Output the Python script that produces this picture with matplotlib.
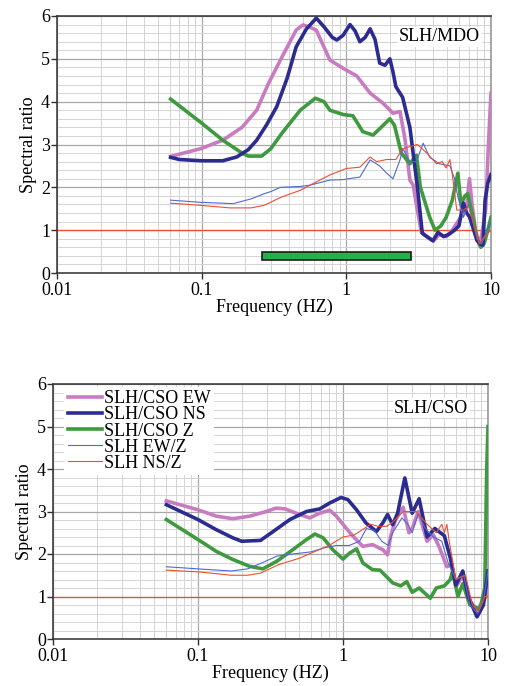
import matplotlib
matplotlib.use("Agg")
import matplotlib.pyplot as plt
from matplotlib.ticker import LogLocator, MultipleLocator, FixedLocator, FixedFormatter, NullFormatter

plt.rcParams['font.family'] = ['Liberation Serif', 'DejaVu Serif']

# ---------------- data: SLH/MDO (top) ----------------
mdo_ew_f = [0.061, 0.075, 0.098, 0.14, 0.19, 0.24, 0.29, 0.36, 0.45, 0.5, 0.55, 0.62, 0.77, 0.95, 1.18, 1.46, 1.8, 2.1, 2.35, 2.55, 2.75, 2.9, 3.05, 3.3, 3.6, 4.0, 4.4, 4.9, 5.4, 5.9, 6.4, 6.8, 7.1, 7.4, 7.8, 8.4, 9.2, 9.6, 10.0]
mdo_ew = [2.72, 2.8, 2.9, 3.1, 3.4, 3.8, 4.43, 5.05, 5.67, 5.79, 5.75, 5.67, 4.97, 4.78, 4.6, 4.2, 3.96, 3.73, 3.77, 3.1, 2.17, 2.05, 1.6, 0.95, 0.85, 0.75, 0.9, 0.85, 1.0, 1.2, 1.4, 1.6, 2.2, 1.6, 1.0, 0.65, 1.5, 3.0, 4.2]

mdo_ns_f = [0.061, 0.07, 0.1, 0.14, 0.175, 0.21, 0.24, 0.28, 0.33, 0.39, 0.45, 0.53, 0.62, 0.7, 0.8, 0.86, 0.95, 1.06, 1.15, 1.24, 1.35, 1.46, 1.58, 1.7, 1.85, 2.0, 2.1, 2.2, 2.45, 2.75, 3.1, 3.35, 3.6, 3.97, 4.3, 4.7, 5.1, 5.6, 6.0, 6.45, 6.8, 7.1, 7.6, 8.0, 8.4, 8.8, 9.1, 9.5, 10.0]
mdo_ns = [2.7, 2.65, 2.62, 2.62, 2.71, 2.88, 3.1, 3.45, 3.88, 4.55, 5.28, 5.7, 5.95, 5.75, 5.5, 5.44, 5.55, 5.8, 5.65, 5.4, 5.5, 5.7, 5.45, 4.9, 4.85, 5.0, 4.7, 4.35, 4.1, 3.4, 2.0, 0.93, 0.85, 0.75, 0.95, 0.85, 0.9, 1.0, 1.1, 1.63, 1.4, 1.31, 1.0, 0.76, 0.68, 0.65, 1.7, 2.1, 2.3]

mdo_z_f = [0.061, 0.1, 0.14, 0.19, 0.21, 0.26, 0.3, 0.36, 0.48, 0.61, 0.7, 0.77, 0.95, 1.11, 1.3, 1.53, 1.8, 2.0, 2.15, 2.4, 2.75, 3.05, 3.25, 3.77, 4.1, 4.5, 4.9, 5.4, 5.9, 6.2, 6.6, 6.9, 7.4, 8.0, 8.5, 9.0, 9.5, 10.0]
mdo_z = [4.06, 3.5, 3.1, 2.8, 2.73, 2.73, 2.9, 3.27, 3.8, 4.08, 4.0, 3.8, 3.7, 3.67, 3.3, 3.22, 3.45, 3.6, 3.45, 2.8, 2.55, 2.75, 2.0, 1.3, 1.0, 1.1, 1.3, 1.7, 2.33, 1.6, 1.8, 1.85, 1.4, 0.8, 0.6, 0.7, 1.0, 1.3]

mdo_ewz_f = [0.061, 0.098, 0.165, 0.22, 0.27, 0.3, 0.35, 0.48, 0.56, 0.77, 0.95, 1.24, 1.46, 1.7, 1.9, 2.1, 2.35, 2.45, 2.75, 3.05, 3.4, 3.77, 4.4, 5.2, 5.6, 5.8, 6.2, 6.45, 7.0, 7.5, 8.0, 8.6, 9.2, 10.0]
mdo_ewz = [1.7, 1.65, 1.62, 1.73, 1.85, 1.9, 2.0, 2.02, 2.05, 2.17, 2.18, 2.24, 2.64, 2.5, 2.33, 2.2, 2.64, 2.91, 2.6, 2.6, 3.03, 2.7, 2.55, 2.5, 2.2, 1.9, 1.5, 1.3, 1.6, 1.2, 0.8, 0.68, 0.9, 1.2]

mdo_nsz_f = [0.061, 0.098, 0.157, 0.22, 0.27, 0.36, 0.48, 0.56, 0.77, 1.0, 1.24, 1.46, 1.62, 1.9, 2.2, 2.45, 3.1, 3.6, 4.2, 4.6, 4.9, 5.2, 5.4, 5.8, 6.45, 7.0, 7.5, 8.3, 9.0, 10.0]
mdo_nsz = [1.63, 1.58, 1.52, 1.52, 1.58, 1.78, 1.93, 2.05, 2.29, 2.44, 2.47, 2.71, 2.6, 2.65, 2.65, 2.9, 3.0, 2.8, 2.55, 2.6, 2.45, 2.65, 2.3, 1.47, 1.47, 1.55, 1.2, 0.68, 0.85, 1.0]

band_lo, band_hi, band_y, band_h = 0.26, 2.8, 0.395, 0.19

# ---------------- data: SLH/CSO (bottom) ----------------
cso_ew_f = [0.0605, 0.1, 0.134, 0.174, 0.227, 0.296, 0.345, 0.4, 0.5, 0.59, 0.69, 0.81, 0.9, 1.05, 1.17, 1.37, 1.6, 1.88, 2.03, 2.13, 2.3, 2.6, 2.85, 3.0, 3.3, 3.8, 4.2, 4.6, 5.2, 5.6, 6.0, 6.7, 7.5, 8.4, 9.9, 10.0]
cso_ew = [3.25, 3.04, 2.89, 2.83, 2.89, 3.0, 3.08, 3.06, 2.93, 2.85, 2.96, 3.03, 2.89, 2.61, 2.42, 2.18, 2.22, 2.1, 1.98, 2.42, 2.8, 3.1, 2.5, 2.6, 3.0, 2.3, 2.45, 2.17, 1.7, 1.75, 1.22, 1.5, 0.9, 0.68, 1.05, 1.1]

cso_ns_f = [0.0605, 0.1, 0.134, 0.174, 0.2, 0.27, 0.33, 0.43, 0.56, 0.69, 0.81, 0.97, 1.08, 1.24, 1.44, 1.7, 1.88, 2.03, 2.2, 2.38, 2.67, 3.0, 3.35, 3.8, 4.3, 5.0, 5.5, 6.0, 6.7, 7.3, 8.4, 9.3, 10.0]
cso_ns = [3.16, 2.81, 2.57, 2.38, 2.3, 2.32, 2.53, 2.81, 3.0, 3.06, 3.2, 3.33, 3.28, 3.04, 2.73, 2.53, 2.73, 2.93, 2.69, 2.96, 3.79, 2.96, 3.3, 2.4, 2.6, 2.43, 1.9, 1.27, 1.6, 1.0, 0.52, 0.8, 1.6]

cso_z_f = [0.0605, 0.1, 0.134, 0.174, 0.227, 0.28, 0.35, 0.45, 0.56, 0.64, 0.73, 0.85, 1.0, 1.11, 1.24, 1.37, 1.6, 1.8, 2.2, 2.5, 2.75, 3.0, 3.35, 4.0, 4.4, 5.0, 5.5, 5.7, 6.2, 6.7, 7.5, 8.8, 9.5, 9.8, 10.0]
cso_z = [2.81, 2.34, 2.06, 1.87, 1.71, 1.65, 1.83, 2.1, 2.34, 2.47, 2.38, 2.1, 1.88, 2.02, 2.12, 1.79, 1.63, 1.62, 1.32, 1.25, 1.35, 1.1, 1.2, 0.96, 1.2, 1.25, 1.4, 1.6, 1.0, 1.3, 0.8, 0.7, 1.2, 4.0, 5.0]

cso_ewz_f = [0.0605, 0.1, 0.17, 0.22, 0.28, 0.35, 0.45, 0.6, 0.75, 0.9, 1.1, 1.3, 1.45, 1.65, 1.85, 2.05, 2.2, 2.55, 2.8, 3.0, 3.3, 3.7, 4.2, 4.8, 5.3, 6.0, 6.8, 7.5, 8.5, 9.3, 10.0]
cso_ewz = [1.7, 1.65, 1.6, 1.65, 1.8, 1.95, 2.0, 2.05, 2.15, 2.2, 2.2, 2.3, 2.6, 2.55, 2.3, 2.2, 2.5, 2.85, 2.7, 2.5, 2.95, 2.6, 2.4, 2.3, 1.8, 1.4, 1.5, 0.8, 0.6, 0.9, 1.6]

cso_nsz_f = [0.0605, 0.1, 0.17, 0.22, 0.27, 0.36, 0.5, 0.63, 0.8, 1.0, 1.2, 1.4, 1.55, 1.75, 2.0, 2.2, 2.6, 3.2, 3.8, 4.4, 4.8, 5.0, 5.2, 5.4, 6.0, 7.0, 7.8, 8.6, 9.5, 10.0]
cso_nsz = [1.62, 1.58, 1.5, 1.5, 1.55, 1.75, 1.9, 2.05, 2.2, 2.4, 2.45, 2.6, 2.7, 2.65, 2.65, 2.75, 3.0, 3.0, 2.7, 2.5, 2.7, 2.5, 2.7, 2.3, 1.4, 1.5, 0.8, 0.65, 1.0, 1.0]

labels = ['SLH/CSO EW', 'SLH/CSO NS', 'SLH/CSO Z', 'SLH EW/Z', 'SLH NS/Z']
x_ticks = [0.01, 0.1, 1, 10]
x_ticklabels = ['0.01', '0.1', '1', '10']

# ---------------- styles ----------------
C_PINK = '#c97bc2'
C_NAVY = '#2c2c90'
C_GREEN = '#3f9a3f'
C_THINB = '#4d6bd0'
C_RED = '#ea5030'
LW_THICK = 2.6
LW_THIN = 0.8
FS = 13

fig = plt.figure(figsize=(5.06, 6.86), dpi=100)
ax1 = fig.add_axes([57/506, 1 - 273/686, 434/506, 257/686])
ax2 = fig.add_axes([53/506, 1 - 639/686, 435/506, 255/686])


def style_axes(ax):
    ax.set_xscale('log')
    ax.set_xlim(0.01, 10)
    ax.set_ylim(0, 6)
    ax.xaxis.set_major_locator(FixedLocator(x_ticks))
    ax.xaxis.set_major_formatter(FixedFormatter(x_ticklabels))
    ax.xaxis.set_minor_locator(LogLocator(base=10, subs=range(2, 10)))
    ax.xaxis.set_minor_formatter(NullFormatter())
    ax.yaxis.set_major_locator(MultipleLocator(1))
    ax.yaxis.set_minor_locator(MultipleLocator(0.2))
    ax.grid(which='major', color='#a8a8a8', lw=0.9)
    ax.grid(which='minor', color='#d4d4d4', lw=0.7)
    ax.set_axisbelow(True)
    for s in ax.spines.values():
        s.set_color('#303030')
        s.set_linewidth(1.1)
    ax.spines['right'].set_color('#909090')
    ax.tick_params(which='major', direction='out', length=4, width=1, labelsize=FS, pad=1, color='#303030')
    ax.tick_params(axis='x', which='major', pad=2.5)
    ax.tick_params(which='minor', length=0)
    ax.axhline(1, color=C_RED, lw=0.9, zorder=1.5)
    ax.set_ylabel('Spectral ratio', fontsize=FS, labelpad=3)
    ax.set_xlabel('Frequency (HZ)', fontsize=FS, labelpad=0)


for ax in (ax1, ax2):
    style_axes(ax)

# top chart
ax1.plot(mdo_ew_f, mdo_ew, color=C_PINK, lw=LW_THICK, zorder=3)
ax1.plot(mdo_z_f, mdo_z, color=C_GREEN, lw=LW_THICK, zorder=3)
ax1.plot(mdo_ns_f, mdo_ns, color=C_NAVY, lw=LW_THICK, zorder=4)
ax1.plot(mdo_ewz_f, mdo_ewz, color=C_THINB, lw=LW_THIN, zorder=5)
ax1.plot(mdo_nsz_f, mdo_nsz, color=C_RED, lw=LW_THIN, zorder=5)
ax1.barh([band_y], [band_hi - band_lo], left=[band_lo], height=band_h,
         color='#22b24a', edgecolor='#1a1a1a', lw=1.2, zorder=6)
ax1.text(0.975, 0.92, 'SLH/MDO', transform=ax1.transAxes, ha='right', va='center',
         fontsize=FS, bbox=dict(facecolor='white', edgecolor='none', pad=1), zorder=7)

# bottom chart
h1, = ax2.plot(cso_ew_f, cso_ew, color=C_PINK, lw=LW_THICK, zorder=3)
h3, = ax2.plot(cso_z_f, cso_z, color=C_GREEN, lw=LW_THICK, zorder=3)
h2, = ax2.plot(cso_ns_f, cso_ns, color=C_NAVY, lw=LW_THICK, zorder=4)
h4, = ax2.plot(cso_ewz_f, cso_ewz, color=C_THINB, lw=LW_THIN, zorder=5)
h5, = ax2.plot(cso_nsz_f, cso_nsz, color=C_RED, lw=LW_THIN, zorder=5)
ax2.text(0.955, 0.905, 'SLH/CSO', transform=ax2.transAxes, ha='right', va='center',
         fontsize=FS, bbox=dict(facecolor='white', edgecolor='none', pad=1), zorder=7)
leg = ax2.legend([h1, h2, h3, h4, h5], labels, loc='upper left', bbox_to_anchor=(0.02, 1.0),
                 fontsize=FS, frameon=True, fancybox=False, framealpha=1, edgecolor='none',
                 labelspacing=-0.05, handlelength=1.9, handletextpad=0.1,
                 borderpad=0.2, borderaxespad=0.15)
leg.set_zorder(8)

fig.savefig('out.png', dpi=100)
